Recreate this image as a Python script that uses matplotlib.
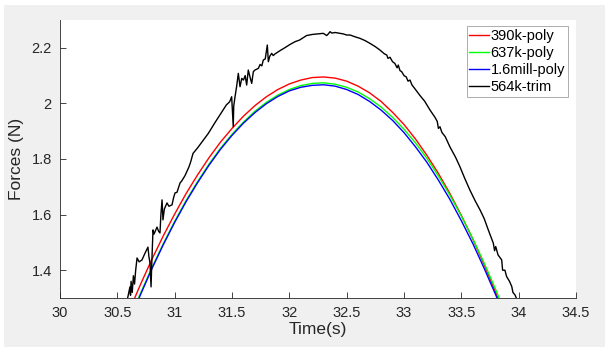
import matplotlib
matplotlib.use("Agg")
import matplotlib.pyplot as plt
from matplotlib.patches import Rectangle

plt.rcParams['font.family'] = ['Liberation Sans', 'DejaVu Sans']

# time grid for the fitted curves
t_fit = [30.6, 30.7, 30.8, 30.9, 31.0, 31.1, 31.2, 31.3, 31.4, 31.5, 31.6,
         31.7, 31.8, 31.9, 32.0, 32.1, 32.2, 32.3, 32.4, 32.5, 32.6, 32.7,
         32.8, 32.9, 33.0, 33.1, 33.2, 33.3, 33.4, 33.5, 33.6, 33.7, 33.8, 33.9]

f_390k = [1.250, 1.347, 1.438, 1.523, 1.602, 1.676, 1.743, 1.805, 1.861, 1.910,
          1.954, 1.992, 2.024, 2.050, 2.070, 2.084, 2.093, 2.095, 2.091, 2.080,
          2.062, 2.038, 2.007, 1.968, 1.924, 1.872, 1.813, 1.748, 1.676, 1.597,
          1.512, 1.419, 1.320, 1.214]

f_637k = [1.216, 1.315, 1.408, 1.495, 1.576, 1.651, 1.719, 1.782, 1.839, 1.889,
          1.933, 1.972, 2.004, 2.030, 2.050, 2.064, 2.072, 2.074, 2.069, 2.058,
          2.041, 2.017, 1.987, 1.950, 1.907, 1.858, 1.802, 1.739, 1.670, 1.595,
          1.513, 1.425, 1.330, 1.229]

f_16mill = [1.211, 1.310, 1.404, 1.491, 1.572, 1.647, 1.715, 1.778, 1.835, 1.885,
            1.929, 1.967, 1.999, 2.025, 2.045, 2.058, 2.065, 2.067, 2.062, 2.050,
            2.032, 2.007, 1.976, 1.939, 1.895, 1.844, 1.788, 1.724, 1.655, 1.578,
            1.496, 1.406, 1.311, 1.209]

# measured trace (564k-trim)
t_trim = [30.59, 30.61, 30.615, 30.62, 30.63, 30.64, 30.65, 30.655, 30.66, 30.672,
          30.69, 30.715, 30.74, 30.767, 30.775, 30.785, 30.794, 30.80, 30.811, 30.82,
          30.846, 30.86, 30.872, 30.88, 30.89, 30.898, 30.91, 30.933, 30.95, 30.977,
          30.99, 31.003, 31.02, 31.047, 31.06, 31.09, 31.125, 31.14, 31.16, 31.2,
          31.25, 31.295, 31.35, 31.4, 31.45, 31.48, 31.497, 31.505, 31.511, 31.515,
          31.525, 31.54, 31.555, 31.57, 31.585, 31.6, 31.615, 31.628, 31.642, 31.66,
          31.672, 31.686, 31.70, 31.73, 31.745, 31.76, 31.773, 31.79, 31.808, 31.817,
          31.83, 31.846, 31.86, 31.875, 31.92, 31.96, 32.006, 32.05, 32.09, 32.15,
          32.2, 32.25, 32.296, 32.326, 32.34, 32.355, 32.37, 32.40, 32.44, 32.47,
          32.50, 32.53, 32.57, 32.616, 32.66, 32.703, 32.75, 32.79, 32.83, 32.85,
          32.86, 32.878, 32.90, 32.92, 32.94, 32.95, 32.965, 32.98, 33.00, 33.02,
          33.035, 33.052, 33.07, 33.10, 33.14, 33.18, 33.227, 33.27, 33.29, 33.30,
          33.314, 33.33, 33.36, 33.40, 33.45, 33.488, 33.53, 33.575, 33.62, 33.663,
          33.70, 33.735, 33.779, 33.79, 33.80, 33.82, 33.852, 33.86, 33.88, 33.895,
          33.92, 33.94, 33.95, 33.968, 33.98, 33.99]
f_trim = [1.30, 1.34, 1.31, 1.36, 1.32, 1.38, 1.35, 1.376, 1.40, 1.444,
          1.43, 1.437, 1.46, 1.483, 1.45, 1.426, 1.34, 1.42, 1.545, 1.53,
          1.555, 1.54, 1.534, 1.60, 1.653, 1.581, 1.62, 1.642, 1.63, 1.635,
          1.66, 1.678, 1.68, 1.714, 1.72, 1.74, 1.772, 1.79, 1.82, 1.84,
          1.868, 1.893, 1.93, 1.962, 1.994, 2.006, 2.024, 1.96, 1.916, 1.99,
          2.02, 2.06, 2.108, 2.06, 2.09, 2.084, 2.10, 2.066, 2.12, 2.09,
          2.072, 2.114, 2.12, 2.126, 2.14, 2.135, 2.156, 2.16, 2.21, 2.15,
          2.17, 2.18, 2.172, 2.178, 2.19, 2.20, 2.212, 2.222, 2.228, 2.244,
          2.248, 2.25, 2.252, 2.244, 2.25, 2.258, 2.253, 2.255, 2.252, 2.25,
          2.246, 2.246, 2.240, 2.234, 2.226, 2.216, 2.204, 2.192, 2.178, 2.174,
          2.162, 2.166, 2.150, 2.144, 2.128, 2.138, 2.118, 2.114, 2.10, 2.095,
          2.080, 2.084, 2.066, 2.05, 2.028, 2.008, 1.976, 1.95, 1.935, 1.91,
          1.916, 1.896, 1.88, 1.844, 1.806, 1.772, 1.73, 1.688, 1.65, 1.617,
          1.585, 1.545, 1.497, 1.47, 1.485, 1.455, 1.437, 1.40, 1.40, 1.377,
          1.36, 1.341, 1.32, 1.311, 1.30, 1.29]

labels = ['390k-poly', '637k-poly', '1.6mill-poly', '564k-trim']

fig = plt.figure(figsize=(6.05, 3.47), dpi=100, facecolor='white')
fig.patches.append(Rectangle((4 / 605, 0), 1, 342 / 347, transform=fig.transFigure,
                             facecolor='#f0f0f0', edgecolor='none', zorder=-10))

ax = fig.add_axes([60 / 605, 1 - 298 / 347, 516 / 605, 278 / 347])
ax.set_facecolor('white')

ax.plot(t_fit, f_390k, color='#ff0000', lw=1.0, label=labels[0])
ax.plot(t_fit, f_637k, color='#00ff00', lw=1.0, label=labels[1])
ax.plot(t_fit, f_16mill, color='#0000ff', lw=1.0, label=labels[2])
ax.plot(t_trim, f_trim, color='black', lw=1.0, label=labels[3])

ax.set_xlim(30, 34.5)
ax.set_ylim(1.3, 2.3)
ax.set_xticks([30, 30.5, 31, 31.5, 32, 32.5, 33, 33.5, 34, 34.5])
ax.set_xticklabels(['30', '30.5', '31', '31.5', '32', '32.5', '33', '33.5', '34', '34.5'])
ax.set_yticks([1.4, 1.6, 1.8, 2.0, 2.2])
ax.set_yticklabels(['1.4', '1.6', '1.8', '2', '2.2'])

for s in ['top', 'right']:
    ax.spines[s].set_visible(False)
for s in ['left', 'bottom']:
    ax.spines[s].set_color('#262626')
    ax.spines[s].set_linewidth(0.6)
ax.tick_params(direction='in', length=4, width=0.6, colors='#262626',
               labelsize=10.5, pad=6)

ax.set_xlabel('Time(s)', fontsize=12.5, color='#262626', labelpad=1)
ax.set_ylabel('Forces (N)', fontsize=12.5, color='#262626', labelpad=5)

leg = ax.legend(loc='upper right', bbox_to_anchor=((568 - 60) / 516, (298 - 26) / 278),
                borderaxespad=0, fontsize=10.5, handlelength=1.35, handletextpad=0.1,
                labelspacing=0.2, borderpad=0.2, fancybox=False, framealpha=1)
leg.get_frame().set_edgecolor('#a0a0a0')
leg.get_frame().set_linewidth(0.6)

fig.savefig('out.png', dpi=100, facecolor=fig.get_facecolor())
